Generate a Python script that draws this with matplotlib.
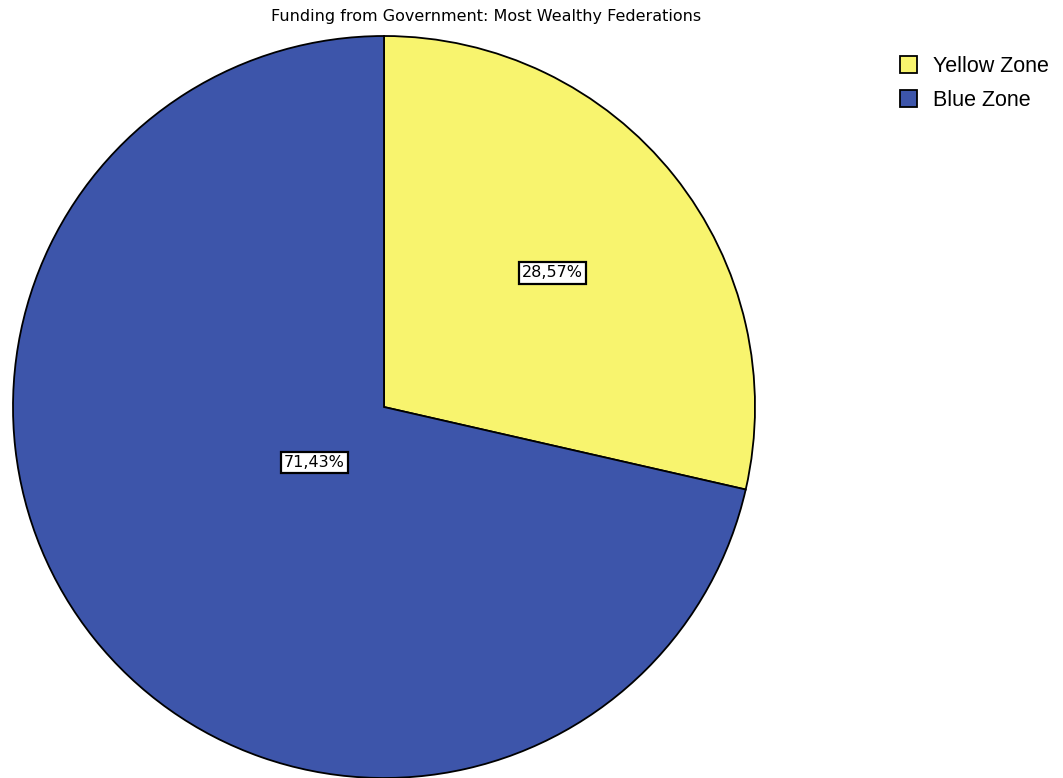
import matplotlib
matplotlib.use("Agg")
import matplotlib.pyplot as plt
import numpy as np

title = "Funding from Government: Most Wealthy Federations"
categories = ["Yellow Zone", "Blue Zone"]
values = [28.57, 71.43]
colors = ["#F8F46E", "#3D55AA"]
label_dist = [0.58, 0.24]

fig = plt.figure(figsize=(10.63, 7.78), dpi=100)
W, H = 1063, 778
cx, cy, r = 384, 407, 371
ax = fig.add_axes([(cx - r) / W, (H - cy - r) / H, 2 * r / W, 2 * r / H])

wedges, _ = ax.pie(values, colors=colors, startangle=90, counterclock=False,
                   wedgeprops=dict(edgecolor="black", linewidth=1.3))
ax.set_xlim(-1.0, 1.0)
ax.set_ylim(-1.0, 1.0)
ax.set_aspect("equal")
ax.axis("off")

for w, v, d in zip(wedges, values, label_dist):
    ang = np.deg2rad((w.theta1 + w.theta2) / 2)
    ax.text(d * np.cos(ang), d * np.sin(ang), f"{v:.2f}%".replace(".", ","),
            ha="center", va="center", fontsize=11.5, color="black",
            bbox=dict(boxstyle="square,pad=0.2", fc="white", ec="black", lw=1.6))

fig.text(486 / W, 1 - 16 / H, title, ha="center", va="center", fontsize=11.5)

fig.legend(wedges, categories, loc="upper left", bbox_to_anchor=(900 / W, 1 - 56 / H),
           frameon=False, prop=dict(family="Liberation Sans", size=15.5),
           handlelength=0.8, handleheight=0.8,
           handletextpad=0.75, labelspacing=0.6, borderpad=0, borderaxespad=0)

fig.savefig("out.png", dpi=100)
